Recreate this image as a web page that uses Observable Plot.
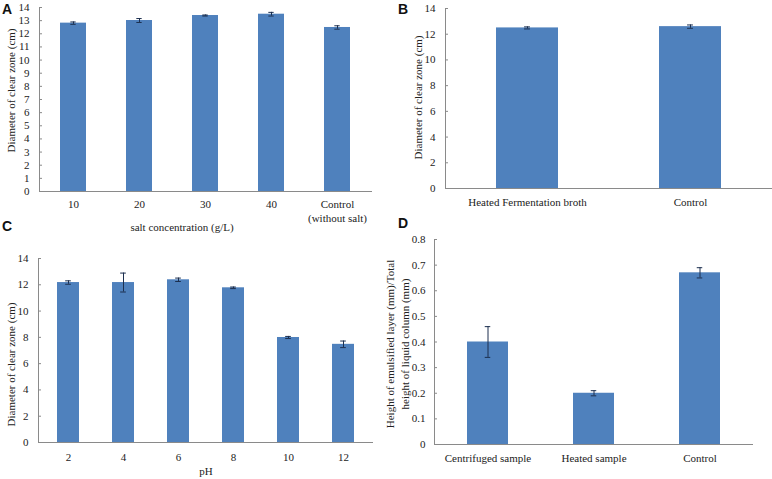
<!DOCTYPE html>
<html><head><meta charset="utf-8">
<script src="https://cdn.jsdelivr.net/npm/d3@7"></script>
<script src="https://cdn.jsdelivr.net/npm/@observablehq/plot@0.6"></script>
<style>
body{margin:0;background:#fff;}
#wrap{position:relative;width:772px;height:479px;overflow:hidden;background:#fff;}
.panel{position:absolute;}
.tag{position:absolute;font-family:"Liberation Sans",Arial,sans-serif;font-weight:bold;font-size:14px;color:#111;line-height:1;}
</style></head><body>
<div id="wrap"></div>
<script>
// Panel A: salt concentration
const saltCats = ["10", "20", "30", "40", "Control\n(without salt)"];
const saltVals = [12.81, 13.01, 13.39, 13.49, 12.48];
const saltErr  = [0.09, 0.15, 0.04, 0.14, 0.13];
const saltTicks = [0,1,2,3,4,5,6,7,8,9,10,11,12,13,14];

// Panel B: heat treatment
const heatCats = ["Heated Fermentation broth", "Control"];
const heatVals = [12.49, 12.59];
const heatErr  = [0.08, 0.13];
const evenTicks = [0,2,4,6,8,10,12,14];

// Panel C: pH
const phCats = ["2", "4", "6", "8", "10", "12"];
const phVals = [12.17, 12.17, 12.38, 11.77, 7.99, 7.47];
const phErr  = [0.13, 0.72, 0.13, 0.06, 0.08, 0.25];

// Panel D: emulsification
const emuCats = ["Centrifuged sample", "Heated sample", "Control"];
const emuVals = [0.40, 0.20, 0.67];
const emuErr  = [0.06, 0.01, 0.02];
const emuTicks = [0, 0.1, 0.2, 0.3, 0.4, 0.5, 0.6, 0.7, 0.8];

const BAR = "#4f81bd", ERR = "#1c2f4f", AXIS = "#8a8a8a";
const wrap = document.getElementById("wrap");

function panel(o) {
  const data = o.cats.map((c, i) => ({cat: c, val: o.vals[i], lo: o.vals[i] - o.errs[i], hi: o.vals[i] + o.errs[i]}));
  const plotW = o.width - o.mL - o.mR;
  const step = plotW / o.cats.length;
  const bandW = step * (1 - o.pad);
  const inset = (bandW - 6) / 2;
  const marks = [
    Plot.barY(data, {x: "cat", y: "val", fill: BAR}),
    Plot.ruleX(data, {x: "cat", y1: "lo", y2: "hi", stroke: ERR, strokeWidth: 1}),
    Plot.tickY(data, {x: "cat", y: "hi", stroke: ERR, insetLeft: inset, insetRight: inset}),
    Plot.tickY(data, {x: "cat", y: "lo", stroke: ERR, insetLeft: inset, insetRight: inset}),
    Plot.ruleY([0], {stroke: AXIS}),
    Plot.frame({anchor: "left", stroke: AXIS}),
    Plot.axisY({ticks: o.yTicks, tickSize: 0, tickPadding: o.yPad, tickFormat: o.yFmt, label: null}),
    Plot.axisY({ticks: o.yTicks, tickSize: 3, dx: 3, text: null, label: null, stroke: AXIS}),
    Plot.axisX({tickSize: 0, tickPadding: o.xPad, label: null, lineHeight: 1.25}),
    Plot.text([o.yLabel], {text: d => d, frameAnchor: "left", textAnchor: "middle", lineAnchor: "middle", rotate: -90, dx: o.yDx, dy: o.yDy, lineHeight: 1.36})
  ];
  if (o.xLabel) marks.push(Plot.text([o.xLabel], {text: d => d, frameAnchor: "bottom", textAnchor: "middle", lineAnchor: "middle", dx: o.xDx, dy: o.xDy}));
  const svg = Plot.plot({
    width: o.width, height: o.height,
    marginLeft: o.mL, marginRight: o.mR, marginTop: o.mT, marginBottom: o.mB,
    style: {fontFamily: "'Liberation Serif','Times New Roman',serif", fontSize: "11px", color: "#222", background: "transparent", overflow: "visible"},
    x: {domain: o.cats, paddingInner: o.pad, paddingOuter: o.pad / 2, axis: null},
    y: {domain: o.yDomain, axis: null},
    marks
  });
  const div = document.createElement("div");
  div.className = "panel";
  div.style.left = o.left + "px";
  div.style.top = o.top + "px";
  div.appendChild(svg);
  wrap.appendChild(div);
}

panel({cats: saltCats, vals: saltVals, errs: saltErr, yDomain: [0, 14], yTicks: saltTicks, yFmt: d => String(d),
  left: 0, top: 0, width: 386, height: 240, mL: 39, mR: 14, mT: 7, mB: 49, pad: 0.6, yPad: 10, xPad: 7,
  yLabel: "Diameter of clear zone (cm)", yDx: -29, yDy: -9,
  xLabel: "salt concentration (g/L)", xDx: -24, xDy: 36});

panel({cats: heatCats, vals: heatVals, errs: heatErr, yDomain: [0, 14], yTicks: evenTicks, yFmt: d => String(d),
  left: 386, top: 0, width: 386, height: 240, mL: 59, mR: 0, mT: 8, mB: 52, pad: 0.62, yPad: 10, xPad: 8,
  yLabel: "Diameter of clear zone (cm)", yDx: -28, yDy: -1});

panel({cats: phCats, vals: phVals, errs: phErr, yDomain: [0, 14], yTicks: evenTicks, yFmt: d => String(d),
  left: 0, top: 240, width: 386, height: 239, mL: 38, mR: 13, mT: 18, mB: 37, pad: 0.6, yPad: 10, xPad: 9,
  yLabel: "Diameter of clear zone (cm)", yDx: -28, yDy: 14,
  xLabel: "pH", xDx: 0, xDy: 29});

panel({cats: emuCats, vals: emuVals, errs: emuErr, yDomain: [0, 0.8], yTicks: emuTicks, yFmt: d => String(+d.toFixed(1)),
  left: 386, top: 225, width: 386, height: 254, mL: 48, mR: 19, mT: 14, mB: 35, pad: 0.61, yPad: 9, xPad: 8,
  yLabel: "Height of emulsified layer (mm)/Total\nheight of liquid column (mm)", yDx: -37.5, yDy: 2});

const tags = [["A", 2, 2], ["B", 398, 2], ["C", 2, 219], ["D", 398, 216]];
for (const [t, x, y] of tags) {
  const s = document.createElement("div");
  s.className = "tag"; s.textContent = t;
  s.style.left = x + "px"; s.style.top = y + "px";
  wrap.appendChild(s);
}
</script>
</body></html>
